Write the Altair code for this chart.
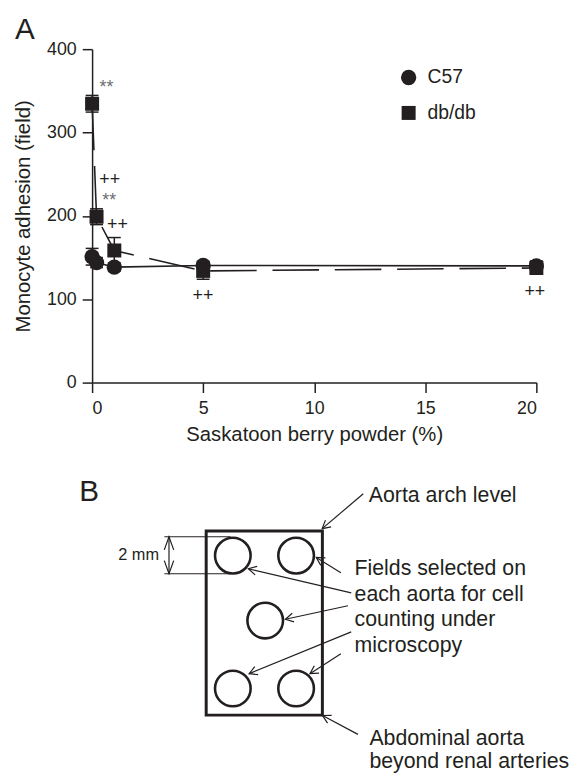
import math
import altair as alt
import pandas as pd

FONT = "Liberation Sans"
INK = "#231f20"
GREY = "#6d6e71"

# ---------------- Panel A data ----------------
powder = [0, 0.2, 1, 5, 20]
series_names = ["C57", "db/db"]
c57_mean = [151, 144, 138.5, 140.5, 140]
c57_sem = [10, 6, 5, 5, 6]
db_mean = [334.5, 199, 158.5, 134, 137.5]
db_sem = [10, 9.5, 15.5, 10, 6]

x_ticks = [0, 5, 10, 15, 20]
y_ticks = [0, 100, 200, 300, 400]

sig_text = ["**", "++", "**", "++", "++", "++"]
sig_kind = ["vs C57", "vs 0%", "vs C57", "vs 0%", "vs 0%", "vs 0%"]
sig_x = [0.65, 0.79, 0.77, 1.14, 4.99, 19.93]
sig_y = [353, 243, 218, 189, 104, 108.6]

# ---------------- Panel B diagram (units: mm) ----------------
field_cx = [1.44, 4.86, 3.19, 1.44, 4.86]
field_cy = [1.33, 1.33, 4.84, 8.51, 8.51]
aorta_x = [0, 6.28]
aorta_y = [0, 9.95]
dim_y = [0.31, 2.31]
dim_x = [-2.26, 1.32]
dim_arrow_x = -2.01
arrow_from_x = [8.49, 7.28, 7.84, 7.66, 7.84, 7.28, 8.20]
arrow_from_y = [-2.01, 2.25, 3.34, 4.04, 5.45, 6.64, 10.99]
arrow_to_x = [6.27, 5.95, 2.28, 4.28, 2.32, 5.61, 6.29]
arrow_to_y = [-0.13, 1.43, 2.04, 4.77, 7.71, 7.71, 9.97]
b_text = ["Aorta arch level", "Fields selected on", "each aorta for cell",
          "counting under", "microscopy", "Abdominal aorta", "beyond renal arteries"]
b_text_x = [8.79, 8.02, 8.02, 8.02, 8.02, 8.82, 8.82]
b_text_y = [-1.58, 2.40, 3.77, 5.12, 6.55, 11.58, 12.81]

# ---------------- tables ----------------
dfA = pd.DataFrame({
    "powder": powder * 2,
    "mean": c57_mean + db_mean,
    "sem": c57_sem + db_sem,
    "series": [series_names[0]] * len(powder) + [series_names[1]] * len(powder),
})
dfA["lo"] = dfA["mean"] - dfA["sem"]
dfA["hi"] = dfA["mean"] + dfA["sem"]
df_sig = pd.DataFrame({"x": sig_x, "y": sig_y, "t": sig_text, "kind": sig_kind})
df_leg = pd.DataFrame({"series": series_names, "x": [14.25, 14.25], "y": [366, 323.5],
                       "tx": [15.1, 15.1]})
df_A_letter = pd.DataFrame({"x": [-3.47], "y": [412.5], "t": ["A"]})

# ---------------- encodings (Panel A) ----------------
def ax(field):
    return alt.X(f"{field}:Q", scale=alt.Scale(domain=[0, 20], nice=False, zero=False),
                 axis=alt.Axis(values=x_ticks, title="Saskatoon berry powder (%)"))


def ay(field):
    return alt.Y(f"{field}:Q", scale=alt.Scale(domain=[0, 400], nice=False),
                 axis=alt.Axis(values=y_ticks, title="Monocyte adhesion (field)"))


shape_enc = alt.Shape("series:N", scale=alt.Scale(domain=series_names, range=["circle", "square"]),
                      legend=None)
size_enc = alt.Size("series:N", scale=alt.Scale(domain=series_names, range=[240, 200]), legend=None)

baseA = alt.Chart(dfA)
line_c57 = baseA.transform_filter(alt.datum.series == "C57").mark_line(
    color=INK, strokeWidth=1.6).encode(x=ax("powder"), y=ay("mean"))
line_db = baseA.transform_filter(alt.datum.series == "db/db").mark_line(
    color=INK, strokeWidth=1.6, strokeDash=[47, 16]).encode(x=ax("powder"), y=ay("mean"))
err = baseA.mark_rule(color=INK, strokeWidth=1.5).encode(x=ax("powder"), y=ay("lo"), y2="hi")
cap_lo = baseA.mark_tick(orient="horizontal", size=13, thickness=1.5, color=INK, opacity=1).encode(
    x=ax("powder"), y=ay("lo"))
cap_hi = baseA.mark_tick(orient="horizontal", size=13, thickness=1.5, color=INK, opacity=1).encode(
    x=ax("powder"), y=ay("hi"))
pts = baseA.mark_point(filled=True, color=INK, opacity=1).encode(
    x=ax("powder"), y=ay("mean"), shape=shape_enc, size=size_enc)
sig = alt.Chart(df_sig).mark_text(fontSize=18, align="center", baseline="middle").encode(
    x=ax("x"), y=ay("y"), text="t:N",
    color=alt.Color("kind:N", scale=alt.Scale(domain=["vs C57", "vs 0%"], range=[GREY, INK]),
                    legend=None))
leg_pts = alt.Chart(df_leg).mark_point(filled=True, color=INK, opacity=1).encode(
    x=ax("x"), y=ay("y"), shape=shape_enc, size=size_enc)
leg_txt = alt.Chart(df_leg).mark_text(fontSize=19.5, align="left", baseline="middle", color=INK).encode(
    x=ax("tx"), y=ay("y"), text="series:N")
letterA = alt.Chart(df_A_letter).mark_text(fontSize=30, align="left", baseline="alphabetic",
                                           color=INK).encode(x=ax("x"), y=ay("y"), text="t:N")

layerA = alt.layer(line_c57, line_db, err, cap_lo, cap_hi, pts, sig, leg_pts, leg_txt, letterA)

# ---------------- Panel B ----------------
bxs = alt.Scale(domain=[0, 10], range=[115.3, 302.3], nice=False, zero=False)
bys = alt.Scale(domain=[0, 10], range=[487, 674], nice=False, zero=False)


def bx(f):
    return alt.X(f"{f}:Q", scale=bxs, axis=None)


def by(f):
    return alt.Y(f"{f}:Q", scale=bys, axis=None)


df_rect = pd.DataFrame({"x": [aorta_x[0]], "x2": [aorta_x[1]], "y": [aorta_y[0]], "y2": [aorta_y[1]]})
df_fields = pd.DataFrame({"x": field_cx, "y": field_cy})
df_dim = pd.DataFrame({"x": [dim_x[0]] * 2, "x2": [dim_x[1]] * 2, "y": dim_y, "y2": dim_y})
df_dimv = pd.DataFrame({"x": [dim_arrow_x], "x2": [dim_arrow_x], "y": [dim_y[0]], "y2": [dim_y[1]]})
df_dimh = pd.DataFrame({"x": [dim_arrow_x] * 2, "y": dim_y, "ang": [270, 90]})
arr_ang = [math.degrees(math.atan2(ty - fy, tx - fx)) % 360
           for fx, fy, tx, ty in zip(arrow_from_x, arrow_from_y, arrow_to_x, arrow_to_y)]
df_arr = pd.DataFrame({"x": arrow_from_x, "y": arrow_from_y, "x2": arrow_to_x, "y2": arrow_to_y,
                       "ang": arr_ang})
df_btxt = pd.DataFrame({"x": b_text_x, "y": b_text_y, "t": b_text})
df_dimtxt = pd.DataFrame({"x": [-3.65], "y": [1.29], "t": ["2 mm"]})
df_B_letter = pd.DataFrame({"x": [-6.86], "y": [-1.63], "t": ["B"]})

rect = alt.Chart(df_rect).mark_rect(fill="white", fillOpacity=0, stroke=INK, strokeWidth=3).encode(
    x=bx("x"), x2="x2", y=by("y"), y2="y2")
fields = alt.Chart(df_fields).mark_point(shape="circle", filled=False, size=1296, strokeWidth=2.6,
                                          color=INK, opacity=1).encode(x=bx("x"), y=by("y"))
dim_lines = alt.Chart(df_dim).mark_rule(color=INK, strokeWidth=1).encode(
    x=bx("x"), x2="x2", y=by("y"), y2="y2")
dim_v = alt.Chart(df_dimv).mark_rule(color=INK, strokeWidth=1.2).encode(
    x=bx("x"), x2="x2", y=by("y"), y2="y2")
dim_heads = alt.Chart(df_dimh).mark_point(shape="M -1 -0.36 L 0 0 L -1 0.36", filled=False,
                                          size=700, strokeWidth=1.2, color=INK, opacity=1).encode(
    x=bx("x"), y=by("y"), angle=alt.Angle("ang:Q", scale=None))
arrows = alt.Chart(df_arr).mark_rule(color=INK, strokeWidth=1.2).encode(
    x=bx("x"), x2="x2", y=by("y"), y2="y2")
heads = alt.Chart(df_arr).mark_point(shape="M -1 -0.55 L 0 0 L -1 0.55", filled=False, size=260,
                                     strokeWidth=1.2, color=INK, opacity=1).encode(
    x=bx("x2"), y=by("y2"), angle=alt.Angle("ang:Q", scale=None))
btxt = alt.Chart(df_btxt).mark_text(fontSize=21.5, align="left", baseline="alphabetic", color=INK).encode(
    x=bx("x"), y=by("y"), text="t:N")
dimtxt = alt.Chart(df_dimtxt).mark_text(fontSize=16.5, align="center", baseline="middle", color=INK).encode(
    x=bx("x"), y=by("y"), text="t:N")
letterB = alt.Chart(df_B_letter).mark_text(fontSize=30, align="left", baseline="alphabetic",
                                           color=INK).encode(x=bx("x"), y=by("y"), text="t:N")

layerB = alt.layer(rect, fields, dim_lines, dim_v, dim_heads, arrows, heads, btxt, dimtxt, letterB)

chart = alt.layer(layerA, layerB).resolve_scale(x="independent", y="independent").properties(
    width=449, height=337,
    autosize=alt.AutoSizeParams(type="none"),
    padding={"left": 85, "top": 37.5, "right": 34, "bottom": 393.5},
).configure(font=FONT).configure_view(stroke=None).configure_axis(
    domainColor=INK, domainWidth=1.5, tickColor=INK, tickWidth=1.5, tickSize=10,
    labelFont=FONT, labelFontSize=18, labelColor=INK,
    titleFont=FONT, titleFontSize=20.5, titleFontWeight="normal", titleColor=INK, grid=False,
).configure_axisY(labelPadding=6, titlePadding=13).configure_axisX(labelPadding=7, titlePadding=8)

chart.save("out.html", embed_options={"renderer": "svg", "actions": False})
